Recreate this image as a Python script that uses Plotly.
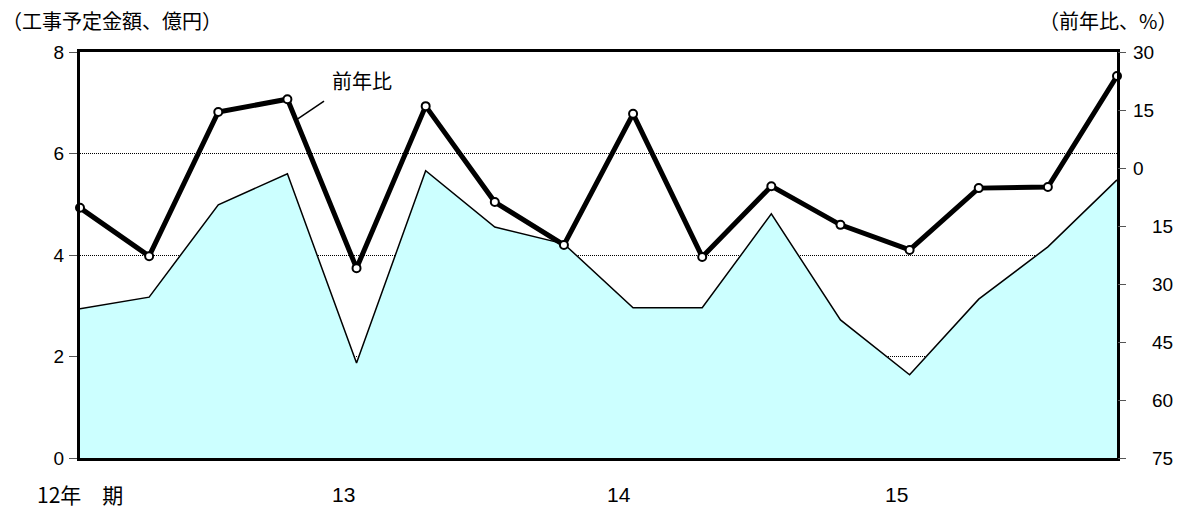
import plotly.graph_objects as go

# 四半期（12年Ⅰ期〜15年Ⅳ期）
quarters = [
    "12年Ⅰ期", "12年Ⅱ期", "12年Ⅲ期", "12年Ⅳ期",
    "13年Ⅰ期", "13年Ⅱ期", "13年Ⅲ期", "13年Ⅳ期",
    "14年Ⅰ期", "14年Ⅱ期", "14年Ⅲ期", "14年Ⅳ期",
    "15年Ⅰ期", "15年Ⅱ期", "15年Ⅲ期", "15年Ⅳ期",
]

# 工事予定金額（億円）
amount = [2.94, 3.17, 4.99, 5.60, 1.87, 5.66, 4.55, 4.22,
          2.96, 2.96, 4.81, 2.72, 1.64, 3.13, 4.16, 5.48]

# 前年比（%）
yoy = [-10.3, -22.8, 14.5, 17.8, -25.9, 16.0, -8.8, -19.9,
       14.0, -23.0, -4.7, -14.7, -21.2, -5.2, -4.9, 23.8]

# 横軸の年ラベル
year_labels = ["12年　期", "13", "14", "15"]
year_at = ["12年Ⅰ期", "13年Ⅰ期", "14年Ⅰ期", "15年Ⅰ期"]

# 右軸目盛（マイナスは符号なしで表示）
yoy_ticks = [30, 15, 0, -15, -30, -45, -60, -75]

FONT = "Liberation Sans, Arial, Noto Sans CJK JP, sans-serif"
CJK = "Noto Sans CJK JP, Liberation Sans, sans-serif"

W, H = 1181, 506
ML, MR, MT, MB = 80, 64, 52, 48
PLOT_W = W - ML - MR

fig = go.Figure()

fig.add_trace(go.Scatter(
    x=quarters, y=amount, mode="lines", yaxis="y",
    fill="tozeroy", fillcolor="#CCFFFF",
    line=dict(color="black", width=1.5),
    showlegend=False, hoverinfo="skip",
))

fig.add_trace(go.Scatter(
    x=quarters, y=yoy, mode="lines+markers", yaxis="y2",
    line=dict(color="black", width=5),
    marker=dict(symbol="circle", size=8, color="white",
                line=dict(color="black", width=2)),
    cliponaxis=False, showlegend=False,
))

annotations = []
for i, (lab, cat) in enumerate(zip(year_labels, year_at)):
    annotations.append(dict(
        x=cat, xref="x", y=0, yref="paper",
        text=lab, showarrow=False,
        xanchor="center" if i == 0 else "right",
        yanchor="middle", yshift=-36,
        font=dict(family=CJK if i == 0 else FONT, size=21, color="black"),
    ))

# 右軸の目盛ラベル（正の値は左揃え、負の値は右へずらして右揃え）
for v in yoy_ticks:
    if v >= 0:
        px, anchor = 14, "left"
    else:
        px, anchor = 58, "right"
    annotations.append(dict(
        x=1 + px / PLOT_W, xref="paper", y=v, yref="y2",
        text=str(abs(v)), showarrow=False,
        xanchor=anchor, yanchor="middle",
        font=dict(family=FONT, size=19, color="black"),
    ))

annotations += [
    dict(x=0, xref="paper", y=1, yref="paper", xshift=-80, yshift=32,
         xanchor="left", yanchor="middle", showarrow=False,
         text="（工事予定金額、億円）",
         font=dict(family=CJK, size=20, color="black")),
    dict(x=1, xref="paper", y=1, yref="paper", xshift=62, yshift=32,
         xanchor="right", yanchor="middle", showarrow=False,
         text="（前年比、%）",
         font=dict(family=CJK, size=20, color="black")),
    dict(x=4.08, xref="x", y=22.6, yref="y2",
         xanchor="center", yanchor="middle", showarrow=False,
         text="前年比",
         font=dict(family=CJK, size=20, color="black")),
]

fig.add_shape(type="line", xref="x", yref="y2",
              x0=3.15, y0=12.7, x1=3.53, y1=17.3,
              line=dict(color="black", width=1.5))

fig.update_layout(
    width=W, height=H,
    margin=dict(l=ML, r=MR, t=MT, b=MB, autoexpand=False),
    paper_bgcolor="white", plot_bgcolor="white",
    font=dict(family=FONT, size=19, color="black"),
    xaxis=dict(
        type="category", range=[0, 15], automargin=False,
        showline=True, linecolor="black", linewidth=3, mirror=True,
        showgrid=False, ticks="", showticklabels=False, zeroline=False,
    ),
    yaxis=dict(
        range=[0, 8], dtick=2, tick0=0, automargin=False,
        showline=True, linecolor="black", linewidth=3, mirror=True,
        showgrid=True, gridcolor="black", gridwidth=1, griddash="1px,1px",
        zeroline=False,
        ticks="outside", ticklen=8, tickwidth=1, tickcolor="#555",
        ticklabelstandoff=1,
        tickfont=dict(family=FONT, size=19),
    ),
    yaxis2=dict(
        overlaying="y", side="right", range=[-75, 30], automargin=False,
        tickvals=yoy_ticks, showticklabels=False,
        showline=False, showgrid=False, zeroline=False,
        ticks="outside", ticklen=8, tickwidth=1, tickcolor="#555",
    ),
    annotations=annotations,
)

fig.write_html("out.html")
